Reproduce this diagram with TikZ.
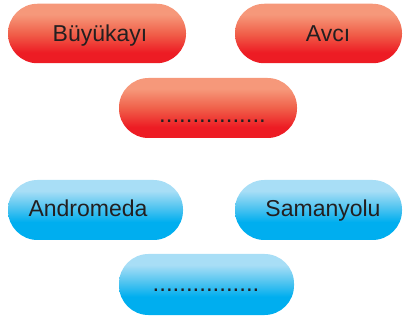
\documentclass[tikz,border=0pt]{standalone}
\usepackage{fontspec}
\setmainfont{Liberation Sans}
\definecolor{redT}{RGB}{246,152,122}
\definecolor{redM}{RGB}{240,96,74}
\definecolor{redB}{RGB}{237,28,36}
\definecolor{bluT}{RGB}{168,222,246}
\definecolor{bluM}{RGB}{80,196,240}
\definecolor{bluB}{RGB}{0,174,239}
\definecolor{txt}{RGB}{35,31,32}
\pgfdeclareverticalshading{redpill}{100bp}{color(0bp)=(redB); color(34bp)=(redB); color(50bp)=(redM); color(66bp)=(redT); color(100bp)=(redT)}
\pgfdeclareverticalshading{blupill}{100bp}{color(0bp)=(bluB); color(40bp)=(bluB); color(52bp)=(bluM); color(66bp)=(bluT); color(100bp)=(bluT)}
\tikzset{
  pill/.style={rectangle, rounded corners=29.5pt, minimum height=59.5pt, inner sep=0pt},
  redp/.style={pill, shading=redpill},
  blup/.style={pill, shading=blupill},
  lbl/.style={anchor=base, text=txt, inner sep=0pt, font=\fontsize{23}{27}\selectfont},
  dots/.style={anchor=base, text=txt, inner sep=0pt, font=\fontsize{24}{28}\selectfont}
}
\begin{document}
\begin{tikzpicture}[x=1pt,y=-1pt]
\useasboundingbox (0,0) rectangle (404,320);
\node[redp, minimum width=178pt] (a) at (97,33.5) {};
\node[redp, minimum width=167pt] (b) at (318.5,33.5) {};
\node[redp, minimum width=178pt, minimum height=60pt] (c) at (208,108) {};
\node[blup, minimum width=175pt, minimum height=60pt] (d) at (95.5,210) {};
\node[blup, minimum width=167pt, minimum height=60pt] (e) at (318.5,210) {};
\node[blup, minimum width=175pt, minimum height=61pt] (f) at (206.5,284.5) {};
\node[lbl] (ta) at (100,42) {Büyükayı};
\node[lbl] (tb) at (328,42) {Avcı};
\node[dots] (tc) at (212.5,123) {................};
\node[lbl] (td) at (88,217) {Andromeda};
\node[lbl] (te) at (323,217) {Samanyolu};
\node[dots] (tf) at (206,291) {................};
\end{tikzpicture}
\end{document}
